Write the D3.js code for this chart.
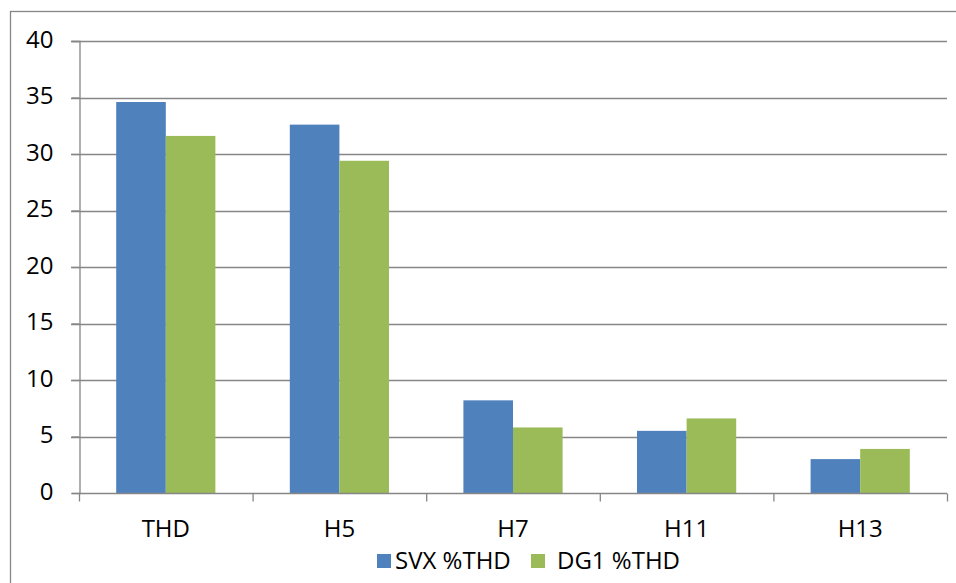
<!DOCTYPE html>
<html>
<head>
<meta charset="utf-8">
<script src="https://cdn.jsdelivr.net/npm/d3@7"></script>
<style>
  body { margin: 0; background: #fff; }
  svg text { font-family: "Open Sans", Carlito, "Liberation Sans", sans-serif; fill: #000; }
</style>
</head>
<body>
<svg id="chart" width="956" height="583"></svg>
<script>
// data
const categories = ['THD', 'H5', 'H7', 'H11', 'H13'];
const seriesNames = ['SVX %THD', 'DG1 %THD'];
const svxValues = [34.6, 32.6, 8.2, 5.5, 3.0];
const dg1Values = [31.6, 29.4, 5.8, 6.6, 3.9];
const yTicks = [0, 5, 10, 15, 20, 25, 30, 35, 40];
const colors = ['#4F81BD', '#9BBB59'];

const svg = d3.select('#chart');
const plot = { left: 79, right: 947, top: 41, bottom: 493 };
const fontSize = 24;

// outer chart frame (runs off the picture at right and bottom)
svg.append('rect')
  .attr('x', 10.5).attr('y', 11.5).attr('width', 980).attr('height', 620)
  .attr('fill', 'none').attr('stroke', '#868686').attr('stroke-width', 1.3);

const x = d3.scaleBand().domain(categories).range([plot.left, plot.right]).paddingInner(0).paddingOuter(0);
const x1 = d3.scaleBand().domain([0, 1]).range([0, x.bandwidth()]).paddingInner(0).paddingOuter(0.75);
const y = d3.scaleLinear().domain([0, 40]).range([plot.bottom, plot.top]);

// gridlines
svg.append('g').selectAll('line').data(yTicks.filter(d => d > 0)).join('line')
  .attr('x1', plot.left - 8).attr('x2', plot.right)
  .attr('y1', d => Math.round(y(d)) + 0.5).attr('y2', d => Math.round(y(d)) + 0.5)
  .attr('stroke', '#868686').attr('stroke-width', 1.3);

// bars
const series = [svxValues, dg1Values];
const g = svg.append('g');
series.forEach((vals, si) => {
  g.selectAll('.bar' + si).data(vals).join('rect')
    .attr('class', 'bar' + si)
    .attr('x', (d, i) => x(categories[i]) + x1(si))
    .attr('width', x1.bandwidth())
    .attr('y', d => y(d))
    .attr('height', d => y(0) - y(d))
    .attr('fill', colors[si]);
});

// y axis
const yAxis = svg.append('g').attr('transform', `translate(${plot.left + 0.5},0)`)
  .call(d3.axisLeft(y).tickValues(yTicks).tickSize(8).tickPadding(18));
yAxis.select('.domain').attr('stroke', '#868686').attr('stroke-width', 1.3);
yAxis.selectAll('.tick line').attr('stroke', '#868686').attr('stroke-width', 1.3);
yAxis.selectAll('.tick text').attr('font-size', fontSize).attr('fill', '#000').attr('dy', '0.27em');

// x axis
const xAxis = svg.append('g').attr('transform', `translate(0,${plot.bottom + 0.5})`);
xAxis.append('line').attr('x1', plot.left).attr('x2', plot.right).attr('stroke', '#868686').attr('stroke-width', 1.3);
xAxis.selectAll('.tk').data(d3.range(categories.length + 1)).join('line')
  .attr('class', 'tk')
  .attr('x1', i => plot.left + i * x.bandwidth() + 0.5).attr('x2', i => plot.left + i * x.bandwidth() + 0.5)
  .attr('y1', 0).attr('y2', 8).attr('stroke', '#868686').attr('stroke-width', 1.3);
xAxis.selectAll('.lbl').data(categories).join('text')
  .attr('class', 'lbl')
  .attr('x', d => x(d) + x.bandwidth() / 2).attr('y', 43.5)
  .attr('text-anchor', 'middle').attr('font-size', fontSize).text(d => d);

// legend
const legend = svg.append('g').attr('transform', 'translate(0,561)');
const legendBox = [377, 531];
const legendText = [395, 557];
seriesNames.forEach((name, i) => {
  legend.append('rect').attr('x', legendBox[i]).attr('y', -7).attr('width', 14).attr('height', 14).attr('fill', colors[i]);
  legend.append('text').attr('x', legendText[i]).attr('y', 7.5).attr('font-size', fontSize).text(name);
});
</script>
</body>
</html>
